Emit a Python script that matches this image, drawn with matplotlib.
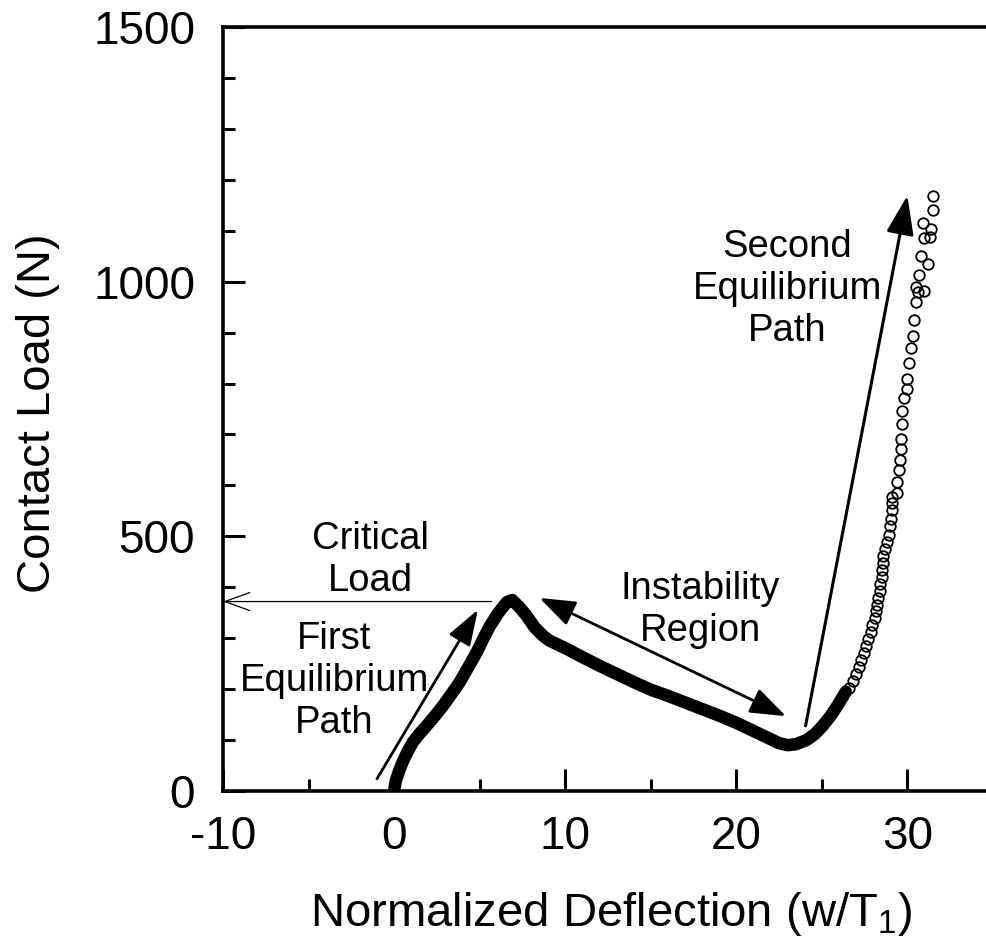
import matplotlib
matplotlib.use('Agg')
import matplotlib.pyplot as plt
from matplotlib.ticker import MultipleLocator

plt.rcParams['font.family'] = ['Liberation Sans', 'DejaVu Sans']
plt.rcParams['mathtext.fontset'] = 'custom'
plt.rcParams['mathtext.rm'] = 'Liberation Sans'
plt.rcParams['mathtext.it'] = 'Liberation Sans:italic'
plt.rcParams['mathtext.bf'] = 'Liberation Sans:bold'
plt.rcParams['axes.unicode_minus'] = False

# Dense part of the measured curve (circles overlap into a solid band)
band_x = [0.0, 0.1, 0.3, 0.5, 0.8, 1.1, 1.5, 1.9, 2.4, 2.85, 3.3, 3.84, 4.3, 4.84,
          5.2, 5.6, 6.1, 6.6, 6.9, 7.3, 7.75, 8.2, 8.7, 9.1, 10.1, 11.0, 12.0, 13.0,
          14.0, 15.0, 16.0, 17.0, 18.0, 19.0, 20.0, 21.0, 22.0, 22.5, 23.0, 23.5,
          24.1, 24.6, 25.05, 25.5, 25.9, 26.4]
band_y = [0, 20, 40, 57, 78, 96, 113, 128, 148, 167, 188, 214, 241, 273,
          298, 324, 350, 371, 375, 362, 344, 322, 305, 295, 279, 263, 246, 230,
          214, 199, 187, 174, 161, 148, 134, 118, 102, 94, 90, 92,
          100, 112, 128, 147, 167, 195]

# Sparse part of the measured curve (individual open circles)
circ_x = [26.6, 26.8, 27.0, 27.15, 27.3, 27.45, 27.6, 27.7, 27.85, 27.96, 28.1, 28.15,
          28.2, 28.3, 28.4, 28.4, 28.5, 28.5, 28.55, 28.6, 28.7, 28.8, 28.9, 29.0,
          29.05, 29.1, 29.1, 29.1, 29.4, 29.4, 29.5, 29.55, 29.6, 29.6, 29.7, 29.7,
          29.8, 30.0, 30.0, 30.1, 30.2, 30.3, 30.4, 30.5, 30.6, 31.0, 30.5, 30.7,
          31.2, 30.8, 31.0, 31.3, 31.4, 30.9, 31.5, 31.5]
circ_y = [202, 216, 230, 244, 257, 271, 285, 298, 312, 325, 339, 353,
          366, 379, 393, 407, 420, 434, 448, 462, 475, 489, 503, 520,
          534, 551, 565, 578, 585, 606, 630, 650, 671, 692, 721, 747,
          772, 790, 809, 840, 869, 894, 925, 961, 980, 982, 990, 1014,
          1035, 1051, 1086, 1088, 1104, 1116, 1140, 1169]

critical_load = 372
x_ticks = [-10, 0, 10, 20, 30]
y_ticks = [0, 500, 1000, 1500]

fig = plt.figure(figsize=(9.87, 9.47), dpi=100)
ax = fig.add_axes([0.2259, 0.1647, 0.7801, 0.8068])

ax.plot(band_x, band_y, color='black', lw=9, solid_capstyle='round',
        solid_joinstyle='round', zorder=3)
ax.plot(circ_x, circ_y, ls='none', marker='o', ms=7.6, mfc='none',
        mec='black', mew=1.3, zorder=3)

ax.set_xlim(-10, 35)
ax.set_ylim(0, 1500)
ax.set_xticks(x_ticks)
ax.set_yticks(y_ticks)
ax.xaxis.set_minor_locator(MultipleLocator(5))
ax.yaxis.set_minor_locator(MultipleLocator(100))
ax.tick_params(which='both', direction='in', top=False, right=False, width=2.2,
               labelsize=33)
ax.tick_params(which='major', length=16)
ax.tick_params(which='minor', length=8.5)
ax.tick_params(axis='x', which='major', pad=17)
ax.tick_params(axis='y', which='major', pad=20)
for s in ax.spines.values():
    s.set_linewidth(2.6)

ax.set_xlabel(r'Normalized Deflection (w/T$_1$)', fontsize=34, va='baseline')
ax.xaxis.set_label_coords(0.504, -0.1767)
ax.set_ylabel('Contact Load (N)', fontsize=34, va='baseline')
ax.yaxis.set_label_coords(-0.2247, 0.495)

# Critical load arrow (thin, open head)
ax.annotate('', xy=(-10, critical_load), xytext=(5.7, critical_load),
            arrowprops=dict(arrowstyle='->,head_length=18,head_width=6.5',
                            mutation_scale=1, lw=0.9, color='black',
                            shrinkA=0, shrinkB=0), annotation_clip=False)
# First equilibrium path arrow
ax.annotate('', xy=(4.9, 356), xytext=(-1.0, 24),
            arrowprops=dict(arrowstyle='-|>,head_length=22,head_width=7.5',
                            mutation_scale=1, lw=2.0, color='black',
                            shrinkA=0, shrinkB=0))
# Instability region double arrow
ax.annotate('', xy=(22.9, 147), xytext=(8.5, 379),
            arrowprops=dict(arrowstyle='<|-|>,head_length=22,head_width=8',
                            mutation_scale=1, lw=2.0, color='black',
                            shrinkA=0, shrinkB=0))
# Second equilibrium path arrow
ax.annotate('', xy=(30.0, 1169), xytext=(24.05, 128),
            arrowprops=dict(arrowstyle='-|>,head_length=24,head_width=8.5',
                            mutation_scale=1, lw=2.2, color='black',
                            shrinkA=0, shrinkB=0))

txt = dict(ha='center', va='center', fontsize=27.5, linespacing=1.22)
ax.text(-1.4, 453, 'Critical\nLoad', **txt)
ax.text(-3.5, 216, 'First\nEquilibrium\nPath', **txt)
ax.text(17.9, 355, 'Instability\nRegion', **txt)
ax.text(23.0, 986, 'Second\nEquilibrium\nPath', **txt)

fig.savefig('out.png', dpi=100)
